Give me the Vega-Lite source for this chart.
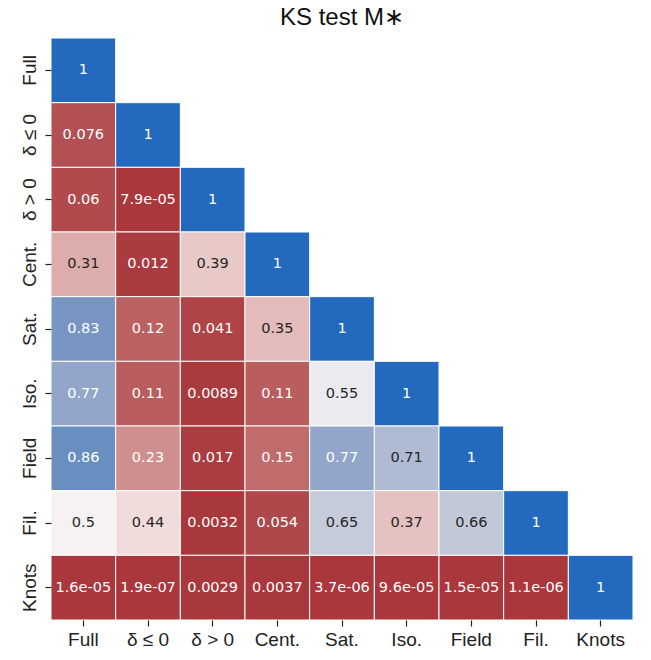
{
  "$schema": "https://vega.github.io/schema/vega-lite/v6.json",
  "width": 582,
  "height": 582,
  "autosize": {"type": "none"},
  "padding": {"left": 51, "top": 38, "right": 18, "bottom": 40},
  "background": "white",
  "title": {
    "text": "KS test M∗",
    "fontSize": 24,
    "fontWeight": "normal",
    "font": "Liberation Sans",
    "color": "#111111",
    "offset": 8,
    "anchor": "middle"
  },
  "config": {
    "view": {"stroke": null}
  },
  "data": {
    "values": [
      {"row": "Full", "col": "Full", "value": 1, "label": "1"},
      {"row": "δ ≤ 0", "col": "Full", "value": 0.076, "label": "0.076"},
      {"row": "δ ≤ 0", "col": "δ ≤ 0", "value": 1, "label": "1"},
      {"row": "δ > 0", "col": "Full", "value": 0.06, "label": "0.06"},
      {"row": "δ > 0", "col": "δ ≤ 0", "value": 0.000079, "label": "7.9e-05"},
      {"row": "δ > 0", "col": "δ > 0", "value": 1, "label": "1"},
      {"row": "Cent.", "col": "Full", "value": 0.31, "label": "0.31"},
      {"row": "Cent.", "col": "δ ≤ 0", "value": 0.012, "label": "0.012"},
      {"row": "Cent.", "col": "δ > 0", "value": 0.39, "label": "0.39"},
      {"row": "Cent.", "col": "Cent.", "value": 1, "label": "1"},
      {"row": "Sat.", "col": "Full", "value": 0.83, "label": "0.83"},
      {"row": "Sat.", "col": "δ ≤ 0", "value": 0.12, "label": "0.12"},
      {"row": "Sat.", "col": "δ > 0", "value": 0.041, "label": "0.041"},
      {"row": "Sat.", "col": "Cent.", "value": 0.35, "label": "0.35"},
      {"row": "Sat.", "col": "Sat.", "value": 1, "label": "1"},
      {"row": "Iso.", "col": "Full", "value": 0.77, "label": "0.77"},
      {"row": "Iso.", "col": "δ ≤ 0", "value": 0.11, "label": "0.11"},
      {"row": "Iso.", "col": "δ > 0", "value": 0.0089, "label": "0.0089"},
      {"row": "Iso.", "col": "Cent.", "value": 0.11, "label": "0.11"},
      {"row": "Iso.", "col": "Sat.", "value": 0.55, "label": "0.55"},
      {"row": "Iso.", "col": "Iso.", "value": 1, "label": "1"},
      {"row": "Field", "col": "Full", "value": 0.86, "label": "0.86"},
      {"row": "Field", "col": "δ ≤ 0", "value": 0.23, "label": "0.23"},
      {"row": "Field", "col": "δ > 0", "value": 0.017, "label": "0.017"},
      {"row": "Field", "col": "Cent.", "value": 0.15, "label": "0.15"},
      {"row": "Field", "col": "Sat.", "value": 0.77, "label": "0.77"},
      {"row": "Field", "col": "Iso.", "value": 0.71, "label": "0.71"},
      {"row": "Field", "col": "Field", "value": 1, "label": "1"},
      {"row": "Fil.", "col": "Full", "value": 0.5, "label": "0.5"},
      {"row": "Fil.", "col": "δ ≤ 0", "value": 0.44, "label": "0.44"},
      {"row": "Fil.", "col": "δ > 0", "value": 0.0032, "label": "0.0032"},
      {"row": "Fil.", "col": "Cent.", "value": 0.054, "label": "0.054"},
      {"row": "Fil.", "col": "Sat.", "value": 0.65, "label": "0.65"},
      {"row": "Fil.", "col": "Iso.", "value": 0.37, "label": "0.37"},
      {"row": "Fil.", "col": "Field", "value": 0.66, "label": "0.66"},
      {"row": "Fil.", "col": "Fil.", "value": 1, "label": "1"},
      {"row": "Knots", "col": "Full", "value": 0.000016, "label": "1.6e-05"},
      {"row": "Knots", "col": "δ ≤ 0", "value": 0.00000019, "label": "1.9e-07"},
      {"row": "Knots", "col": "δ > 0", "value": 0.0029, "label": "0.0029"},
      {"row": "Knots", "col": "Cent.", "value": 0.0037, "label": "0.0037"},
      {"row": "Knots", "col": "Sat.", "value": 0.0000037, "label": "3.7e-06"},
      {"row": "Knots", "col": "Iso.", "value": 0.000096, "label": "9.6e-05"},
      {"row": "Knots", "col": "Field", "value": 0.000015, "label": "1.5e-05"},
      {"row": "Knots", "col": "Fil.", "value": 0.0000011, "label": "1.1e-06"},
      {"row": "Knots", "col": "Knots", "value": 1, "label": "1"}
    ]
  },
  "encoding": {
    "x": {
      "field": "col",
      "type": "nominal",
      "sort": ["Full", "δ ≤ 0", "δ > 0", "Cent.", "Sat.", "Iso.", "Field", "Fil.", "Knots"],
      "scale": {"paddingInner": 0, "paddingOuter": 0},
      "axis": {
        "title": null,
        "labelAngle": 0,
        "labelFontSize": 19,
        "labelFont": "Liberation Sans",
        "labelColor": "#222222",
        "labelPadding": 4,
        "tickSize": 6,
        "tickColor": "#222222",
        "tickWidth": 1.2,
        "domain": false,
        "grid": false
      }
    },
    "y": {
      "field": "row",
      "type": "nominal",
      "sort": ["Full", "δ ≤ 0", "δ > 0", "Cent.", "Sat.", "Iso.", "Field", "Fil.", "Knots"],
      "scale": {"paddingInner": 0, "paddingOuter": 0},
      "axis": {
        "title": null,
        "labelAngle": -90,
        "labelAlign": "center",
        "labelBaseline": "bottom",
        "labelFontSize": 19,
        "labelFont": "Liberation Sans",
        "labelColor": "#222222",
        "labelPadding": 6,
        "tickSize": 6,
        "tickColor": "#222222",
        "tickWidth": 1.2,
        "domain": false,
        "grid": false
      }
    }
  },
  "layer": [
    {
      "mark": {"type": "rect", "stroke": "white", "strokeWidth": 1},
      "encoding": {
        "color": {
          "field": "value",
          "type": "quantitative",
          "scale": {
            "domain": [0, 0.06, 0.15, 0.23, 0.31, 0.39, 0.44, 0.5, 0.55, 0.65, 0.71, 0.77, 0.83, 1],
            "range": ["#a9373b", "#b04a4d", "#c06c6c", "#cf8f8e", "#dcadab", "#e8c9c8", "#f0dcdb", "#f6f2f1", "#ebebef", "#c5cbd9", "#aebbd2", "#91a6c9", "#7896c1", "#2369bd"],
            "interpolate": "rgb"
          },
          "legend": null
        }
      }
    },
    {
      "mark": {"type": "text", "font": "DejaVu Sans", "fontSize": 14.5, "baseline": "middle", "align": "center"},
      "encoding": {
        "text": {"field": "label", "type": "nominal"},
        "color": {
          "condition": {"test": "datum.value > 0.28 && datum.value < 0.75", "value": "#262626"},
          "value": "#ffffff"
        }
      }
    }
  ]
}
